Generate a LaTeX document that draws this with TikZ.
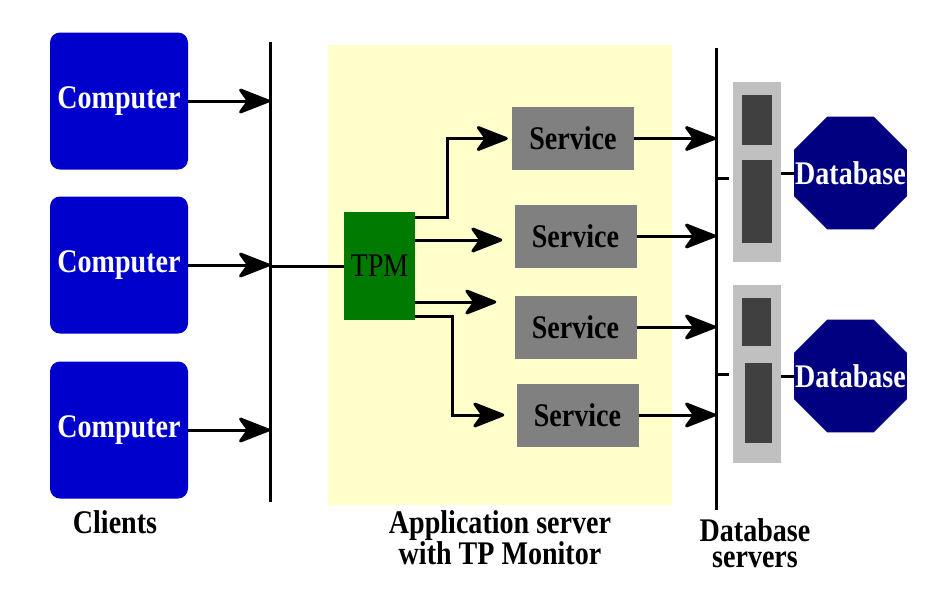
\documentclass[tikz,border=0pt]{standalone}
\usepackage{fontspec}
\setmainfont{Liberation Serif}[FakeStretch=0.85]
\usetikzlibrary{arrows.meta,shapes.geometric,positioning,calc}
\definecolor{pcblue}{RGB}{0,0,204}
\definecolor{dbnavy}{RGB}{0,0,128}
\definecolor{appyellow}{RGB}{255,255,204}
\definecolor{tpmgreen}{RGB}{0,122,0}
\definecolor{svcgray}{RGB}{128,128,128}
\definecolor{rackgray}{RGB}{192,192,192}
\definecolor{slotgray}{RGB}{64,64,64}
\newcommand{\bigfont}{\fontsize{33}{29}\selectfont}
\tikzset{
    pc-box/.style={
        rectangle,
        rounded corners=10pt,
        fill=pcblue,
        text=white,
        font=\bfseries\bigfont,
        minimum width=138pt,
        minimum height=137pt,
        inner sep=0pt
    },
    svc-box/.style={
        rectangle,
        fill=svcgray,
        font=\bfseries\bigfont,
        minimum width=122pt,
        minimum height=63pt,
        inner sep=0pt
    },
    tpm-box/.style={
        rectangle,
        fill=tpmgreen,
        font=\bigfont,
        minimum width=71pt,
        minimum height=108pt,
        inner sep=0pt
    },
    rack/.style={
        rectangle,
        fill=rackgray,
        minimum width=48pt,
        inner sep=0pt
    },
    slot/.style={
        rectangle,
        fill=slotgray,
        inner sep=0pt
    },
    db-oct/.style={
        regular polygon,
        regular polygon sides=8,
        fill=dbnavy,
        minimum size=122pt,
        inner sep=0pt,
        label={[db-text]center:Database}
    },
    db-text/.style={
        text=white,
        font=\bfseries\bigfont
    },
    caption/.style={
        font=\bfseries\bigfont,
        align=center
    },
    bus/.style={
        line width=3pt
    },
    flow/.style={
        line width=3pt,
        -{Stealth[length=36pt,width=28pt,inset=10pt,round]}
    }
}

\begin{document}
\begin{tikzpicture}[x=1pt,y=-1pt]
    \useasboundingbox (0,0) rectangle (936,590);
    \fill[appyellow] (328,45) rectangle (672,505);

    % clients
    \node[pc-box] (c1) at (119,101) {Computer};
    \node[pc-box] (c2) at (119,265) {Computer};
    \node[pc-box] (c3) at (119,430) {Computer};
    \node[caption] (cl) at (115,522) {Clients};

    \coordinate (cbt) at (270,42);
    \coordinate (cbb) at (270,502);
    \draw[bus] (cbt) -- (cbb);

    % application server
    \node[tpm-box] (tpm) at (379.5,266) {TPM};
    \node[svc-box] (sv1) at (573,138.5) {Service};
    \node[svc-box] (sv2) at (575.5,236) {Service};
    \node[svc-box] (sv3) at (575.5,327) {Service};
    \node[svc-box] (sv4) at (577.5,415) {Service};
    \node[caption] (ap) at (500,538) {Application server\\with TP Monitor};

    % database servers
    \coordinate (dbt) at (716,48);
    \coordinate (dbb) at (716,510);
    \draw[bus] (dbt) -- (dbb);

    \node[rack, minimum height=180pt] (r1) at (757,172) {};
    \node[slot, minimum width=30pt, minimum height=50pt] (r1a) at (757,120) {};
    \node[slot, minimum width=30pt, minimum height=83pt] (r1b) at (757,201.5) {};
    \node[rack, minimum height=178pt] (r2) at (757,374) {};
    \node[slot, minimum width=29pt, minimum height=48pt] (r2a) at (756.5,322) {};
    \node[slot, minimum width=27pt, minimum height=80pt] (r2b) at (758.5,403) {};

    \node[db-oct] (db1) at (850.5,173) {};
    \node[db-oct] (db2) at (850.5,376) {};
    \node[caption] (ds) at (755,543) {Database\\[-3pt]servers};

    \coordinate (t1) at (716,178);
    \coordinate (t2) at (716,374);

    % connectors
    \draw[flow] (c1.east) -- (c1.east -| cbt);
    \draw[flow] (c2.east) -- (c2.east -| cbt);
    \draw[flow] (c3.east) -- (c3.east -| cbt);
    \draw[bus] (tpm.west -| cbt) -- (tpm.west);

    \draw[flow, shorten >=4pt] ([yshift=-6pt]tpm.north east) -- ++(32,0) |- (sv1.west);
    \draw[flow, shorten >=12pt] ([yshift=26pt]tpm.east) -- ([yshift=26pt]tpm.east -| sv2.west);
    \draw[flow, shorten >=18pt] ([yshift=-36pt]tpm.east) -- ([yshift=-36pt]tpm.east -| sv3.west);
    \draw[flow, shorten >=12pt] ([yshift=-50pt]tpm.east) -- ++(37,0) |- (sv4.west);

    \draw[flow] (sv1.east) -- (sv1.east -| dbt);
    \draw[flow] (sv2.east) -- (sv2.east -| dbt);
    \draw[flow] (sv3.east) -- (sv3.east -| dbt);
    \draw[flow] (sv4.east) -- (sv4.east -| dbt);

    \draw[bus] (t1) -- ++(13,0);
    \draw[bus] (t2) -- ++(13,0);
    \draw[bus] (r1.east |- db1.west) -- (db1.west);
    \draw[bus] (r2.east |- db2.west) -- (db2.west);
\end{tikzpicture}
\end{document}
